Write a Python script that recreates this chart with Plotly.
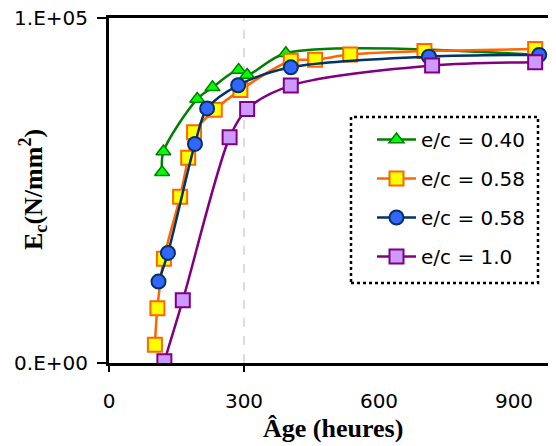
import plotly.graph_objects as go

# ---- data ----
hours_040 = [118, 121, 196, 230, 288, 307, 393, 952]
E_040 = [55300, 61300, 76500, 79900, 84900, 83500, 89800, 89300]

hours_058a = [102, 107.5, 122, 158, 176, 189, 235, 292, 404, 458, 536, 701, 947]
E_058a = [5300, 15900, 30200, 48200, 59500, 66900, 73400, 79100, 87600, 87900, 89400, 90400, 91000]

hours_058b = [110, 131, 191, 218, 287, 404, 711, 956]
E_058b = [23600, 31900, 63500, 73800, 80500, 85700, 88800, 89300]

hours_100 = [123, 164, 268, 307, 404, 718, 947]
E_100 = [500, 18200, 65400, 73600, 80400, 86200, 87200]

series_names = ["e/c = 0.40", "e/c = 0.58", "e/c = 0.58", "e/c = 1.0"]
x_tick_vals = [0, 300, 600, 900]
x_tick_text = ["0", "300", "600", "900"]
y_tick_vals = [0, 100000]
y_tick_text = ["0.E+00", "1.E+05"]
x_grid_at = 300

# page body has an 8px margin; the figure is sized so it ends at the window edge
OFF = 8
W, H = 556 - OFF, 446 - OFF
ML, MR, MT, MB = 109 - OFF, 0, 18 - OFF, H - (363 - OFF)
X_MAX = (W - ML - MR) / 0.45
PW, PH = W - ML - MR, H - MT - MB


def px_x(px):
    return (px - OFF - ML) / PW


def px_y(py):
    return (H - MB - (py - OFF)) / PH


tick_font = dict(family="DejaVu Sans", size=20, color="black")
title_font = dict(family="Liberation Serif", size=26, color="black")

fig = go.Figure()

styles = [
    dict(line=dict(color="#008000", width=2.5),
         marker=dict(symbol="triangle-up", size=13, color="#00FF00", line=dict(color="#008000", width=1.5))),
    dict(line=dict(color="#FF6600", width=2.5),
         marker=dict(symbol="square", size=14, color="#FFFF00", line=dict(color="#FF6600", width=2))),
    dict(line=dict(color="#003366", width=2.5),
         marker=dict(symbol="circle", size=14, color="#3366FF", line=dict(color="#003366", width=2))),
    dict(line=dict(color="#800080", width=2.5),
         marker=dict(symbol="square", size=14, color="#CC99FF", line=dict(color="#800080", width=2))),
]
data = [(hours_040, E_040), (hours_058a, E_058a), (hours_058b, E_058b), (hours_100, E_100)]

for i, ((xs, ys), nm, st) in enumerate(zip(data, series_names, styles)):
    fig.add_trace(go.Scatter(
        x=xs, y=ys, name=nm, mode="lines+markers",
        line=dict(shape="spline", smoothing=0.9, **st["line"]),
        marker=st["marker"], legendgroup=f"g{i}",
    ))

# hidden overlay axis only for tick marks at 0 and 300
fig.add_trace(go.Scatter(x=[0], y=[0], xaxis="x2", showlegend=False,
                         mode="markers", marker=dict(opacity=0), hoverinfo="skip"))

fig.update_layout(
    width=W, height=H,
    margin=dict(l=ML, r=MR, t=MT, b=MB, pad=0, autoexpand=False),
    paper_bgcolor="white", plot_bgcolor="white",
    showlegend=True,
    legend=dict(
        x=px_x(372), y=px_y(120),
        xanchor="left", yanchor="top",
        bgcolor="rgba(255,255,255,0)", borderwidth=0,
        font=tick_font, traceorder="grouped", tracegroupgap=10,
        itemwidth=39,
    ),
    xaxis=dict(
        range=[0, X_MAX], tickvals=x_tick_vals, ticktext=x_tick_text,
        ticks="", showgrid=False, zeroline=False, automargin=False,
        showline=True, linecolor="black", linewidth=3, mirror=True,
        tickfont=tick_font, ticklabelstandoff=18, ticklabeloverflow="allow",
    ),
    xaxis2=dict(
        range=[0, X_MAX], overlaying="x", side="bottom", anchor="y",
        tickvals=[0, 300], showticklabels=False, ticks="outside",
        ticklen=8, tickwidth=1.5, tickcolor="black", automargin=False,
        showgrid=False, zeroline=False, showline=False,
    ),
    yaxis=dict(
        range=[0, 100000], tickvals=y_tick_vals, ticktext=y_tick_text,
        ticks="outside", ticklen=9, tickwidth=1.5, tickcolor="black",
        showgrid=False, zeroline=False, automargin=False,
        showline=True, linecolor="black", linewidth=3, mirror=False,
        tickfont=tick_font, ticklabelstandoff=5, ticklabeloverflow="allow",
    ),
    shapes=[
        dict(type="line", xref="x", yref="paper", x0=x_grid_at, x1=x_grid_at, y0=0, y1=1,
             line=dict(color="#BBBBBB", width=1, dash="dash"), layer="below"),
        dict(type="rect", xref="paper", yref="paper",
             x0=px_x(351), x1=px_x(538), y0=px_y(283), y1=px_y(117),
             line=dict(color="black", width=2.5, dash="dot"), fillcolor="white", layer="above"),
    ],
    annotations=[
        dict(text="<b>Âge (heures)</b>", xref="paper", yref="paper",
             x=px_x(333), y=px_y(428), showarrow=False,
             font=title_font, xanchor="center", yanchor="middle"),
        dict(text="<b>E<sub>c</sub>(N/mm<sup>2</sup>)</b>", xref="paper", yref="paper",
             x=px_x(33), y=px_y(190), showarrow=False, textangle=-90,
             font=title_font, xanchor="center", yanchor="middle"),
    ],
)

fig.write_html("out.html")
